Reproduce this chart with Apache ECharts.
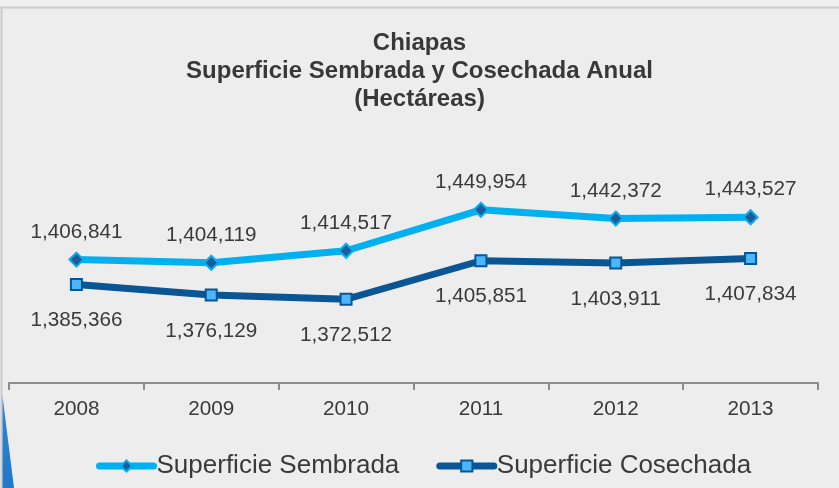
<!DOCTYPE html>
<html>
<head>
<meta charset="utf-8">
<script src="https://cdn.jsdelivr.net/npm/echarts@6/dist/echarts.min.js"></script>
<style>
  html, body { margin: 0; padding: 0; background: #ededed; }
  #chart { width: 839px; height: 488px; }
</style>
</head>
<body>
<div id="chart"></div>
<script>
const titleLines = ['Chiapas', 'Superficie Sembrada y Cosechada Anual', '(Hectáreas)'];
const years = ['2008', '2009', '2010', '2011', '2012', '2013'];
const sembrada = [1406841, 1404119, 1414517, 1449954, 1442372, 1443527];
const cosechada = [1385366, 1376129, 1372512, 1405851, 1403911, 1407834];
const seriesNames = ['Superficie Sembrada', 'Superficie Cosechada'];

const FONT = '"Liberation Sans", Arial, sans-serif';
const LIGHT = '#00b0f0';
const DARK = '#0a5694';
const fmt = v => v.toLocaleString('en-US');

const chart = echarts.init(document.getElementById('chart'), null, { renderer: 'canvas' });
chart.setOption({
  backgroundColor: '#ededed',
  animation: false,
  title: {
    text: titleLines.join('\n'),
    left: 'center',
    top: 29,
    padding: 0,
    textStyle: { fontFamily: FONT, fontSize: 24, fontWeight: 'bold', color: '#383838', lineHeight: 28 }
  },
  graphic: [
    { type: 'rect', shape: { x: 0, y: 0, width: 839, height: 7 }, style: { fill: '#efefef' }, silent: true },
    { type: 'rect', shape: { x: 1.5, y: 7.5, width: 860, height: 500 }, style: { fill: 'none', stroke: '#cbcbcb', lineWidth: 2 }, silent: true },
    { type: 'polygon', shape: { points: [[2.5, 396], [14, 488], [2.5, 488]] },
      style: { fill: new echarts.graphic.LinearGradient(0, 0, 0, 1, [{ offset: 0, color: '#2f86d6' }, { offset: 1, color: '#2277c8' }]) }, silent: true }
  ],
  legend: {
    left: 96,
    top: 453,
    padding: 0,
    itemWidth: 54,
    itemHeight: 14,
    itemGap: 37,
    lineStyle: { width: 7, cap: 'round' },
    textStyle: { fontFamily: FONT, fontSize: 26, color: '#3a3a3a', padding: [0, 0, 0, -2] },
    data: seriesNames
  },
  grid: { left: 9, right: 21, top: 152, bottom: 105, containLabel: false },
  xAxis: {
    type: 'category',
    data: years,
    boundaryGap: true,
    axisLine: { lineStyle: { color: '#8c8c8c', width: 2 } },
    axisTick: { show: true, length: 7, lineStyle: { color: '#8c8c8c', width: 2 } },
    axisLabel: { fontFamily: FONT, fontSize: 20.7, color: '#3a3a3a', margin: 16 }
  },
  yAxis: {
    type: 'value',
    min: 1300000,
    max: 1500000,
    show: false,
    splitLine: { show: false }
  },
  series: [
    {
      name: seriesNames[0],
      type: 'line',
      data: sembrada,
      symbol: 'diamond',
      symbolSize: 14,
      lineStyle: { color: LIGHT, width: 7 },
      itemStyle: { color: '#1b5c9a', borderColor: LIGHT, borderWidth: 2 },
      label: { show: true, position: 'top', distance: 9, formatter: p => fmt(p.value),
        fontFamily: FONT, fontSize: 20.7, color: '#3a3a3a' },
      z: 3
    },
    {
      name: seriesNames[1],
      type: 'line',
      data: cosechada,
      symbol: 'rect',
      symbolSize: 11,
      lineStyle: { color: DARK, width: 7 },
      itemStyle: { color: '#4ab6ff', borderColor: DARK, borderWidth: 2 },
      label: { show: true, position: 'bottom', distance: 19, formatter: p => fmt(p.value),
        fontFamily: FONT, fontSize: 20.7, color: '#3a3a3a' },
      z: 2
    }
  ]
});
</script>
</body>
</html>
